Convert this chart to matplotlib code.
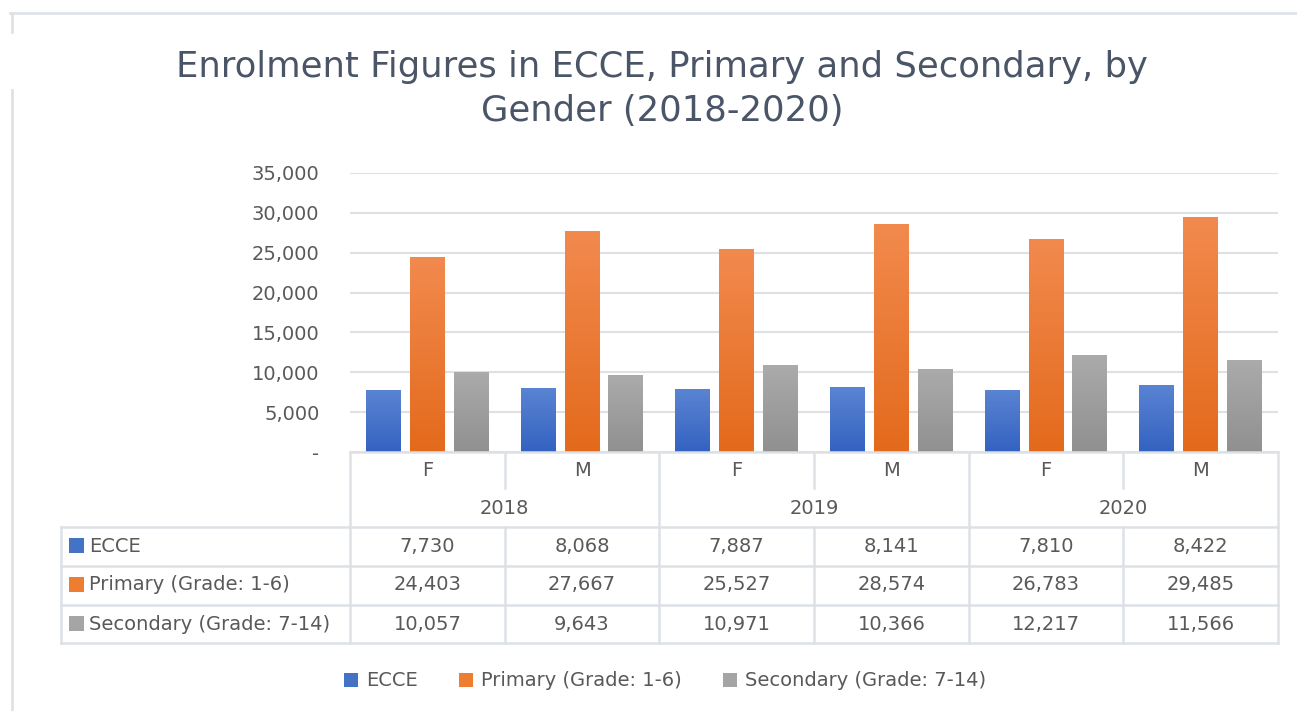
import matplotlib.pyplot as plt
import numpy as np
from matplotlib.colors import LinearSegmentedColormap
from matplotlib.lines import Line2D
from matplotlib.patches import Patch, Rectangle
from matplotlib.transforms import blended_transform_factory

# data
years = ["2018", "2019", "2020"]
genders = ["F", "M", "F", "M", "F", "M"]
series_names = ["ECCE", "Primary (Grade: 1-6)", "Secondary (Grade: 7-14)"]
ecce = [7730, 8068, 7887, 8141, 7810, 8422]
primary = [24403, 27667, 25527, 28574, 26783, 29485]
secondary = [10057, 9643, 10971, 10366, 12217, 11566]
yticks = [0, 5000, 10000, 15000, 20000, 25000, 30000, 35000]

W, H = 1297, 711
TEXT = "#595959"
LINE = "#dde1e6"
FS = 14
plt.rcParams["font.family"] = ["DejaVu Sans"]

# (top colour, bottom colour) for gradient fill
grads = [("#5a84d3", "#3462c0"), ("#f28a4e", "#e36a1c"), ("#ababab", "#909090")]
flat = ["#4472C4", "#ED7D31", "#A5A5A5"]


def fx(px):
	return px / W


def fy(py):
	return 1 - py / H


fig = plt.figure(figsize=(W / 100, H / 100), dpi=100)
fig.patch.set_facecolor("white")

# plot area
ax = fig.add_axes([fx(350), fy(452), fx(1278) - fx(350), fy(173) - fy(452)])
x = np.arange(len(genders))
offset = 0.284
width = 0.226
values = [ecce, primary, secondary]

for i, vals in enumerate(values):
	bars = ax.bar(x + (i - 1) * offset, vals, width, color=flat[i], zorder=2)
	cmap = LinearSegmentedColormap.from_list("g%d" % i, [grads[i][1], grads[i][0]])
	grad = np.linspace(0, 1, 256).reshape(-1, 1)
	for b in bars:
		bx, by = b.get_x(), b.get_y()
		bw, bh = b.get_width(), b.get_height()
		im = ax.imshow(grad, cmap=cmap, origin="lower", aspect="auto",
			extent=[bx, bx + bw, by, by + bh], zorder=3)
		im.set_clip_path(b)

ax.set_xlim(-0.5, len(genders) - 0.5)
ax.set_ylim(0, 35000)
ax.set_yticks(yticks)
ax.set_yticklabels(["-" if v == 0 else f"{v:,}" for v in yticks])
ax.tick_params(axis="y", length=0, pad=22, labelsize=FS, labelcolor=TEXT)
ax.set_xticks([])
ax.grid(axis="y", color=LINE, linewidth=1.5, zorder=0)
ax.set_axisbelow(True)
for s in ax.spines.values():
	s.set_visible(False)

# data table under the axis
tr = blended_transform_factory(ax.transData, fig.transFigure)
ft = fig.transFigure


def hline(py, x0, x1):
	fig.add_artist(Line2D([fx(x0), fx(x1)], [fy(py), fy(py)], color=LINE, lw=1.8, transform=ft))


def vline(px, y0, y1):
	fig.add_artist(Line2D([fx(px), fx(px)], [fy(y0), fy(y1)], color=LINE, lw=1.8, transform=ft))


hline(452, 350, 1278)
for py in [527, 566, 605, 643]:
	hline(py, 61, 1278)
vline(61, 527, 643)
cw = (1278 - 350) / 6
for k in range(4):
	vline(350 + 2 * k * cw, 452, 643)
for k in range(3):
	vline(350 + (2 * k + 1) * cw, 452, 488)
	vline(350 + (2 * k + 1) * cw, 527, 643)

for i, g in enumerate(genders):
	fig.text(i, fy(471), g, transform=tr, ha="center", va="center", fontsize=FS, color=TEXT)
for k, yr in enumerate(years):
	fig.text(2 * k + 0.5, fy(508), yr, transform=tr, ha="center", va="center", fontsize=FS, color=TEXT)

row_y = [546, 585, 624]
for r, vals in enumerate(values):
	fig.add_artist(Rectangle((fx(69), fy(row_y[r] + 7)), fx(15), fy(0) - fy(15),
		facecolor=flat[r], edgecolor="none", transform=ft))
	fig.text(fx(89), fy(row_y[r]), series_names[r], ha="left", va="center", fontsize=FS, color=TEXT)
	for i, v in enumerate(vals):
		fig.text(i, fy(row_y[r]), f"{v:,}", transform=tr, ha="center", va="center",
			fontsize=FS, color=TEXT)

# legend
handles = [Patch(facecolor=flat[i], edgecolor="none", label=series_names[i]) for i in range(3)]
fig.legend(handles=handles, loc="center", bbox_to_anchor=(fx(665), fy(681)), ncol=3,
	frameon=False, fontsize=FS, labelcolor=TEXT, handlelength=0.75, handleheight=0.75,
	handletextpad=0.4, columnspacing=2.1)

# title
fig.text(fx(662), fy(89), "Enrolment Figures in ECCE, Primary and Secondary, by\nGender (2018-2020)",
	ha="center", va="center", fontsize=25.5, color="#4a5567", linespacing=1.35)

# faint frame of the source chart
fig.add_artist(Line2D([fx(10), fx(1297)], [fy(13), fy(13)], color="#dfe3e8", lw=2, transform=ft))
fig.add_artist(Line2D([fx(12), fx(12)], [fy(13), fy(32)], color="#dfe3e8", lw=2, transform=ft))
fig.add_artist(Line2D([fx(12), fx(12)], [fy(90), fy(711)], color="#dfe3e8", lw=2, transform=ft))

fig.savefig("out.png", dpi=100, facecolor="white")
